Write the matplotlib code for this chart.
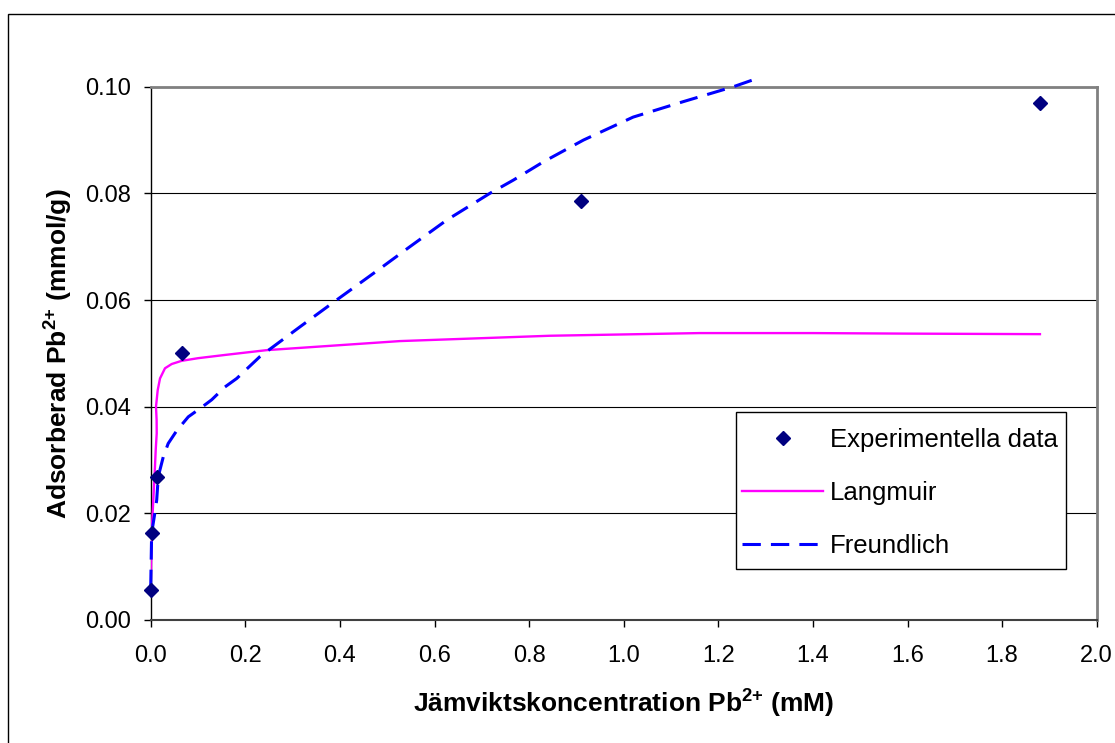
import matplotlib
matplotlib.use("Agg")
import matplotlib.pyplot as plt
from matplotlib.patches import Rectangle
from matplotlib.ticker import FormatStrFormatter, MultipleLocator

plt.rcParams['font.family'] = ['Liberation Sans', 'DejaVu Sans']
plt.rcParams['mathtext.fontset'] = 'custom'
plt.rcParams['mathtext.rm'] = 'Liberation Sans'
plt.rcParams['mathtext.bf'] = 'Liberation Sans:bold'

# Experimental data
exp_x = [0.0, 0.0035, 0.014, 0.067, 0.909, 1.880]
exp_y = [0.0056, 0.0164, 0.0269, 0.0500, 0.0785, 0.0969]

# Langmuir curve
lang_x = [0.0, 0.002, 0.0055, 0.009, 0.0106, 0.0127, 0.0125, 0.0112, 0.0148, 0.0197,
          0.0302, 0.0444, 0.0655, 0.1006, 0.157, 0.245, 0.527, 0.844, 1.16, 1.4, 1.6, 1.88]
lang_y = [0.0060, 0.0163, 0.0225, 0.0287, 0.0319, 0.0350, 0.0375, 0.0400, 0.0431, 0.0453,
          0.0472, 0.0480, 0.0486, 0.0491, 0.0497, 0.0506, 0.0523, 0.0533, 0.0538, 0.0538,
          0.0537, 0.0536]

# Freundlich curve
freu_x = [0.0, 0.002, 0.0076, 0.0127, 0.016, 0.0266, 0.037, 0.055, 0.0795, 0.108,
          0.129, 0.157, 0.182, 0.231, 0.316, 0.393, 0.485, 0.548, 0.626, 0.717,
          0.767, 0.830, 0.915, 1.020, 1.126, 1.232, 1.274]
freu_y = [0.0060, 0.0163, 0.0194, 0.0225, 0.0269, 0.0306, 0.0331, 0.0355, 0.0381, 0.0399,
          0.0413, 0.0437, 0.0453, 0.0494, 0.0550, 0.0600, 0.0659, 0.0700, 0.0750, 0.0800,
          0.0825, 0.0859, 0.0900, 0.0943, 0.0972, 0.1000, 0.1013]

xlabel = 'Jämviktskoncentration Pb$^{\\mathbf{2{+}}}$ (mM)'
ylabel = 'Adsorberad Pb$^{\\mathbf{2{+}}}$ (mmol/g)'
legend_labels = ['Experimentella data', 'Langmuir', 'Freundlich']

fig = plt.figure(figsize=(11.15, 7.43), dpi=100)
ax = fig.add_axes([150.7/1115, 1-620/743, (1096.7-150.7)/1115, (620-86.7)/743])

# figure frame
fig.patches.append(Rectangle((8/1115, -0.1), 1.2, (743-14)/743 + 0.1,
                             transform=fig.transFigure, fill=False,
                             edgecolor='black', linewidth=1.0))

ax.plot(lang_x, lang_y, color='#FF00FF', linewidth=1.7, label=legend_labels[1], zorder=3)
ax.plot(freu_x, freu_y, color='#0000FF', linewidth=2.2, dashes=(6, 3.3),
        label=legend_labels[2], zorder=3, clip_on=False)
ax.plot(exp_x, exp_y, linestyle='none', marker='D', markersize=7.5,
        color='#000080', label=legend_labels[0], zorder=4, clip_on=False)

ax.set_xlim(0, 2.0)
ax.set_ylim(0, 0.10)
ax.xaxis.set_major_locator(MultipleLocator(0.2))
ax.yaxis.set_major_locator(MultipleLocator(0.02))
ax.xaxis.set_major_formatter(FormatStrFormatter('%.1f'))
ax.yaxis.set_major_formatter(FormatStrFormatter('%.2f'))
ax.grid(axis='y', color='black', linewidth=0.8)
ax.set_axisbelow(True)

for s in ['top', 'right']:
    ax.spines[s].set_color('#808080')
    ax.spines[s].set_linewidth(2.0)
ax.spines['left'].set_color('black')
ax.spines['left'].set_linewidth(1.0)
ax.spines['bottom'].set_color('#404040')
ax.spines['bottom'].set_linewidth(1.5)

ax.tick_params(axis='y', direction='out', length=5, width=1, labelsize=17, pad=9)
ax.tick_params(axis='x', direction='out', length=5, width=1, labelsize=17, pad=13)

ax.set_xlabel(xlabel, fontsize=19, fontweight='bold', labelpad=14)
ax.set_ylabel(ylabel, fontsize=19, fontweight='bold', labelpad=8)

# legend frame drawn separately (Excel-like asymmetric padding)
ax.add_patch(Rectangle((0.6187, 0.0951), 0.3489, 0.2955, transform=ax.transAxes,
                       facecolor='white', edgecolor='black', linewidth=1.0,
                       zorder=5, clip_on=False))

handles, labels = ax.get_legend_handles_labels()
order = [2, 0, 1]
leg = ax.legend([handles[i] for i in order], [labels[i] for i in order],
                loc='upper left', bbox_to_anchor=(0.6251, 0.3595),
                fontsize=18.5, frameon=False, handlelength=3.15, handletextpad=0.27,
                labelspacing=1.12, borderpad=0, borderaxespad=0)
leg.set_zorder(6)

fig.savefig('out.png', dpi=100)
